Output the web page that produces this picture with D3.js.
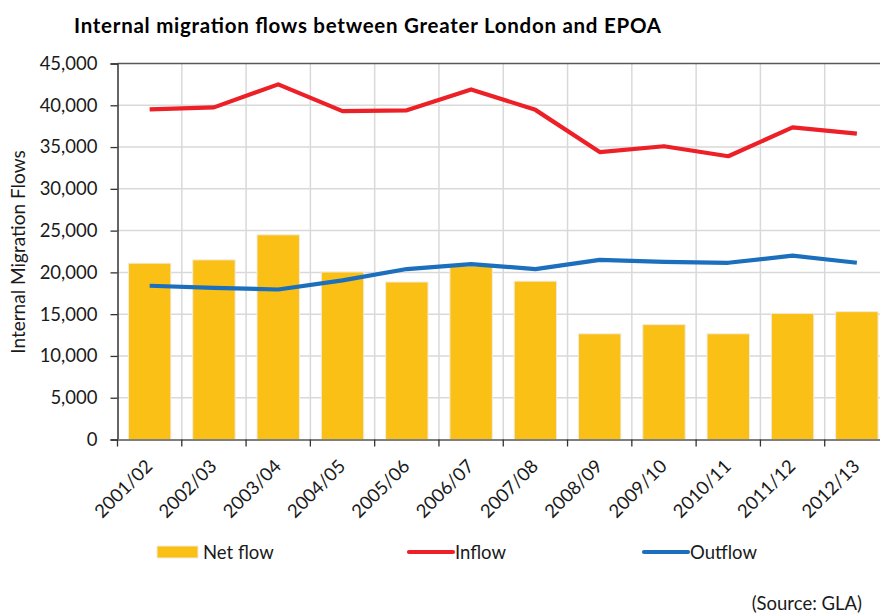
<!DOCTYPE html>
<html>
<head>
<meta charset="utf-8">
<script src="https://cdn.jsdelivr.net/npm/d3@7"></script>
<style>
  body { margin: 0; background: #fff; }
  svg { display: block; font-family: Lato, "Open Sans", sans-serif; }
</style>
</head>
<body>
<div id="chart"></div>
<script>
// data
var categories = ["2001/02", "2002/03", "2003/04", "2004/05", "2005/06", "2006/07",
                  "2007/08", "2008/09", "2009/10", "2010/11", "2011/12", "2012/13"];
var netFlow = [21100, 21500, 24500, 20050, 18850, 20750, 18950, 12650, 13750, 12650, 15100, 15300];
var inflow = [39500, 39750, 42500, 39300, 39400, 41900, 39450, 34400, 35100, 33900, 37350, 36600];
var outflow = [18400, 18150, 17950, 19050, 20400, 21000, 20400, 21500, 21250, 21150, 22000, 21150];
var yTicks = [0, 5000, 10000, 15000, 20000, 25000, 30000, 35000, 40000, 45000];
var legendItems = ["Net flow", "Inflow", "Outflow"];

var width = 880, height = 615;
var plotLeft = 117.5, plotRight = 889, plotTop = 63.5, plotBottom = 439.5;

var svg = d3.select("#chart")
    .append("svg")
    .attr("width", width)
    .attr("height", height);

var x = d3.scaleBand()
    .domain(categories)
    .range([plotLeft, plotRight]);

var y = d3.scaleLinear()
    .domain([0, 45000])
    .range([plotBottom, plotTop]);

// gridlines
svg.append("g")
    .selectAll("line")
    .data(yTicks.slice(1, -1))
    .join("line")
    .attr("x1", plotLeft).attr("x2", plotRight)
    .attr("y1", d => y(d)).attr("y2", d => y(d))
    .attr("stroke", "#d9d9d9")
    .attr("stroke-width", 1.5);

svg.append("g")
    .selectAll("line")
    .data(categories.slice(1))
    .join("line")
    .attr("x1", d => x(d)).attr("x2", d => x(d))
    .attr("y1", plotTop).attr("y2", plotBottom)
    .attr("stroke", "#d9d9d9")
    .attr("stroke-width", 1.5);

// top border
svg.append("line")
    .attr("x1", plotLeft).attr("x2", plotRight)
    .attr("y1", y(45000)).attr("y2", y(45000))
    .attr("stroke", "#595959")
    .attr("stroke-width", 1.5);

// bars
var barW = x.bandwidth() * 0.66;
svg.append("g")
    .selectAll("rect")
    .data(netFlow)
    .join("rect")
    .attr("x", (d, i) => x(categories[i]) + (x.bandwidth() - barW) / 2)
    .attr("y", d => y(d))
    .attr("width", barW)
    .attr("height", d => y(0) - y(d))
    .attr("fill", "#fbc015")
    .attr("stroke", "#f0ece0")
    .attr("stroke-width", 1);

// lines
var line = d3.line()
    .x((d, i) => x(categories[i]) + x.bandwidth() / 2)
    .y(d => y(d));

svg.append("path")
    .datum(inflow)
    .attr("d", line)
    .attr("fill", "none")
    .attr("stroke", "#ed2027")
    .attr("stroke-width", 4.2)
    .attr("stroke-linejoin", "round");

svg.append("path")
    .datum(outflow)
    .attr("d", line)
    .attr("fill", "none")
    .attr("stroke", "#1b6fbd")
    .attr("stroke-width", 4.2)
    .attr("stroke-linejoin", "round");

// y axis
var yAxis = d3.axisLeft(y)
    .tickValues(yTicks)
    .tickFormat(d3.format(","))
    .tickSize(7)
    .tickPadding(13);

var gy = svg.append("g")
    .attr("transform", `translate(${plotLeft},0)`)
    .call(yAxis);
gy.select(".domain").attr("stroke", "#333").attr("stroke-width", 1.5);
gy.selectAll(".tick line").attr("stroke", "#333").attr("stroke-width", 1.3);
gy.selectAll("text")
    .attr("font-family", "Lato")
    .attr("font-size", 18.5)
    .attr("fill", "#1a1a1a");

// x axis
var xAxis = d3.axisBottom(x)
    .tickSize(0)
    .tickFormat("");
var gx = svg.append("g")
    .attr("transform", `translate(0,${plotBottom})`)
    .call(xAxis);
gx.select(".domain").attr("stroke", "#7f7f7f").attr("stroke-width", 2.2);

// x tick marks at band edges
svg.append("g")
    .selectAll("line")
    .data(categories)
    .join("line")
    .attr("x1", d => x(d)).attr("x2", d => x(d))
    .attr("y1", plotBottom).attr("y2", plotBottom + 7)
    .attr("stroke", "#333")
    .attr("stroke-width", 1.3);

// rotated category labels
svg.append("g")
    .selectAll("text")
    .data(categories)
    .join("text")
    .attr("transform", d => `translate(${x(d) + x.bandwidth() / 2 + 4},${plotBottom + 28}) rotate(-45)`)
    .attr("text-anchor", "end")
    .attr("font-size", 18.5)
    .attr("fill", "#1a1a1a")
    .text(d => d);

// y axis title
svg.append("text")
    .attr("transform", `translate(25,252) rotate(-90)`)
    .attr("text-anchor", "middle")
    .attr("font-size", 19)
    .attr("fill", "#1a1a1a")
    .text("Internal Migration Flows");

// chart title
svg.append("text")
    .attr("x", 74)
    .attr("y", 33)
    .attr("font-size", 20.5)
    .attr("font-weight", "bold")
    .attr("textLength", 587)
    .attr("lengthAdjust", "spacing")
    .attr("fill", "#000")
    .text("Internal migration flows between Greater London and EPOA");

// legend
var legendX = [157, 409, 644];
var legendColors = ["#fbc015", "#ed2027", "#1b6fbd"];
var lg = svg.append("g");
legendItems.forEach((name, i) => {
    if (i === 0) {
        lg.append("rect")
            .attr("x", legendX[i]).attr("y", 546)
            .attr("width", 41).attr("height", 12)
            .attr("fill", legendColors[i])
            .attr("stroke", "#f0ece0");
    } else {
        lg.append("line")
            .attr("x1", legendX[i]).attr("x2", legendX[i] + 44)
            .attr("y1", 552).attr("y2", 552)
            .attr("stroke", legendColors[i])
            .attr("stroke-width", 4.2)
            .attr("stroke-linecap", "round");
    }
    lg.append("text")
        .attr("x", legendX[i] + 46)
        .attr("y", 559)
        .attr("font-size", 18.5)
        .attr("fill", "#1a1a1a")
        .text(name);
});

// source note
svg.append("text")
    .attr("x", 862)
    .attr("y", 610)
    .attr("text-anchor", "end")
    .attr("font-size", 18.5)
    .attr("fill", "#1a1a1a")
    .text("(Source: GLA)");
</script>
</body>
</html>
